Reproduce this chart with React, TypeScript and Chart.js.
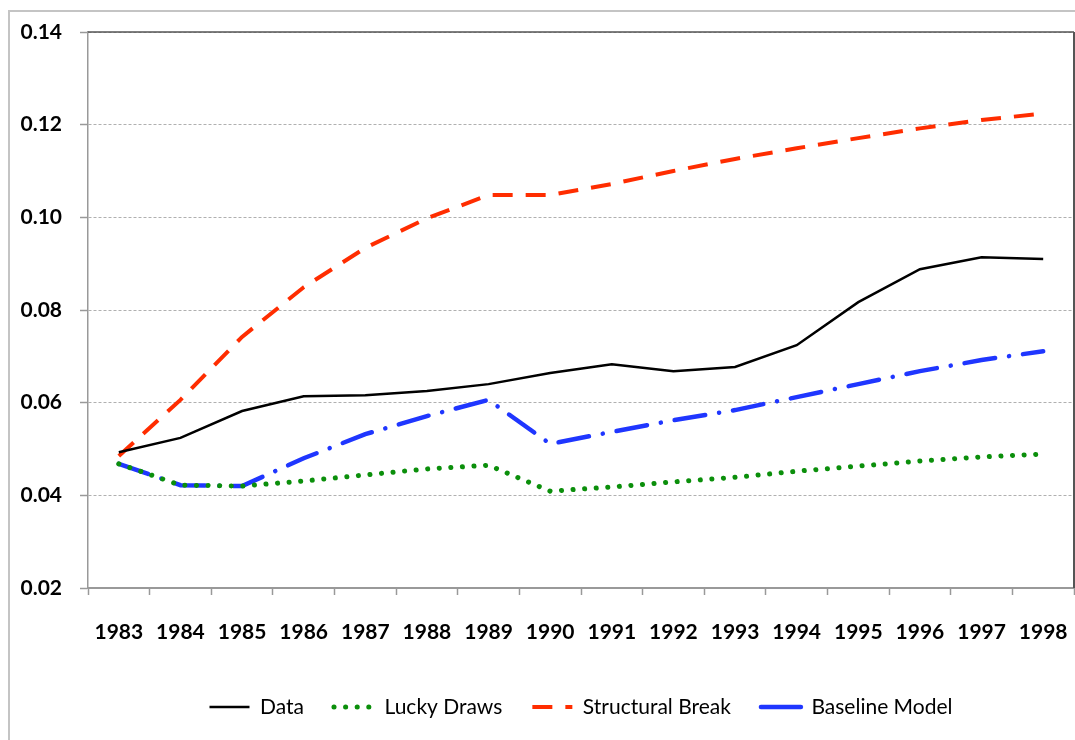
import React, { useEffect, useRef } from "react";
import { Chart, registerables } from "chart.js";

Chart.register(...registerables);

const years = ["1983","1984","1985","1986","1987","1988","1989","1990","1991","1992","1993","1994","1995","1996","1997","1998"];
const dataSeries = [0.0493,0.0524,0.0582,0.0614,0.0616,0.0625,0.0640,0.0664,0.0683,0.0668,0.0677,0.0724,0.0817,0.0888,0.0914,0.0910];
const luckyDraws = [0.0468,0.0422,0.0420,0.0431,0.0444,0.0457,0.0465,0.0409,0.0418,0.0429,0.0439,0.0452,0.0463,0.0474,0.0483,0.0489];
const structuralBreak = [0.0485,0.0606,0.0742,0.0849,0.0934,0.0998,0.1048,0.1048,0.1072,0.1100,0.1126,0.1149,0.1171,0.1192,0.1210,0.1224];
const baselineModel = [0.0468,0.0422,0.0420,0.0480,0.0532,0.0571,0.0606,0.0511,0.0537,0.0562,0.0584,0.0612,0.0640,0.0668,0.0692,0.0711];
const seriesNames = ["Data", "Lucky Draws", "Structural Break", "Baseline Model"];
const yMin = 0.02;
const yMax = 0.14;
const yStep = 0.02;

const framePlugin = {
  id: "frameBorder",
  afterDatasetsDraw(chart: any) {
    const { ctx, chartArea } = chart;
    ctx.save();
    ctx.strokeStyle = "#555";
    ctx.lineWidth = 1.5;
    ctx.beginPath();
    ctx.moveTo(chartArea.left, chartArea.top);
    ctx.lineTo(chartArea.right, chartArea.top);
    ctx.stroke();
    ctx.lineWidth = 2;
    ctx.beginPath();
    ctx.moveTo(chartArea.right, chartArea.top);
    ctx.lineTo(chartArea.right, chartArea.bottom);
    ctx.stroke();
    ctx.restore();
  },
};

export default function App() {
  const ref = useRef<HTMLCanvasElement | null>(null);
  useEffect(() => {
    if (!ref.current) return;
    const baseGen = (Chart.defaults as any).plugins.legend.labels.generateLabels;
    const chart = new Chart(ref.current, {
      type: "line",
      data: {
        labels: years,
        datasets: [
          {
            label: seriesNames[0],
            data: dataSeries,
            borderColor: "#000000",
            backgroundColor: "#000000",
            borderWidth: 2.5,
            pointRadius: 0,
            tension: 0,
          },
          {
            label: seriesNames[1],
            data: luckyDraws,
            borderColor: "#0b8f0b",
            backgroundColor: "#0b8f0b",
            borderWidth: 5,
            borderDash: [0.1, 11.5],
            borderCapStyle: "round",
            pointRadius: 0,
            tension: 0,
          },
          {
            label: seriesNames[2],
            data: structuralBreak,
            borderColor: "#ff2d00",
            backgroundColor: "#ff2d00",
            borderWidth: 4,
            borderDash: [20, 13],
            borderCapStyle: "butt",
            pointRadius: 0,
            tension: 0,
          },
          {
            label: seriesNames[3],
            data: baselineModel,
            borderColor: "#1f36ff",
            backgroundColor: "#1f36ff",
            borderWidth: 4.5,
            borderDash: [31, 14, 0.1, 14],
            borderCapStyle: "round",
            pointRadius: 0,
            tension: 0,
          },
        ],
      },
      options: {
        animation: false,
        responsive: false,
        maintainAspectRatio: false,
        layout: { padding: { left: 0, right: 1, top: 32, bottom: 12.5 } },
        plugins: {
          tooltip: { enabled: false },
          legend: {
            position: "bottom",
            fullSize: false,
            labels: {
              usePointStyle: true,
              pointStyle: "line",
              pointStyleWidth: 40,
              padding: 30,
              color: "#000",
              font: { family: "Lato", size: 21, weight: "normal" },
              generateLabels: (ch: any) => {
                const items = baseGen(ch);
                return items.map((it: any) => {
                  const ds = ch.data.datasets[it.datasetIndex];
                  return {
                    ...it,
                    pointStyle: "line",
                    strokeStyle: ds.borderColor,
                    fillStyle: ds.borderColor,
                    lineWidth: ds.borderWidth,
                    lineDash: it.datasetIndex === 3 ? [] : (ds.borderDash || []),
                    lineCap: ds.borderCapStyle || "butt",
                  };
                });
              },
            },
          },
        },
        scales: {
          x: {
            offset: true,
            afterFit: (s: any) => {
              s.height = 78.5;
              s.paddingLeft = 0;
              s.paddingRight = 0;
            },
            grid: {
              offset: true,
              drawOnChartArea: false,
              drawTicks: true,
              tickLength: 7,
              tickColor: "#999",
              tickWidth: 1.5,
            },
            border: { color: "#999", width: 2 },
            ticks: {
              autoSkip: false,
              maxRotation: 0,
              padding: 25,
              color: "#000",
              font: { family: "Lato", size: 21, weight: "bold" },
            },
          },
          y: {
            min: yMin,
            max: yMax,
            afterFit: (s: any) => { s.width = 88; },
            grid: {
              color: "#b0b0b0",
              lineWidth: 1,
              drawTicks: true,
              tickLength: 8,
              tickColor: "#999",
              tickWidth: 1.5,
              tickBorderDash: [],
            },
            border: { color: "#999", width: 1.5, dash: [3, 2] },
            ticks: {
              stepSize: yStep,
              padding: 18,
              color: "#000",
              font: { family: "Lato", size: 21, weight: "bold" },
              callback: (v: any) => Number(v).toFixed(2),
            },
          },
        },
      },
      plugins: [framePlugin],
    });
    return () => chart.destroy();
  }, []);

  return (
    <>
      <div
        style={{
          position: "fixed",
          left: 8,
          top: 10,
          width: 1075,
          height: 740,
          borderTop: "2px solid #c4c4c4",
          borderLeft: "2px solid #c4c4c4",
        }}
      />
      <canvas
        ref={ref}
        width={1075}
        height={740}
        style={{ position: "fixed", left: 0, top: 0, width: 1075, height: 740 }}
      />
    </>
  );
}
